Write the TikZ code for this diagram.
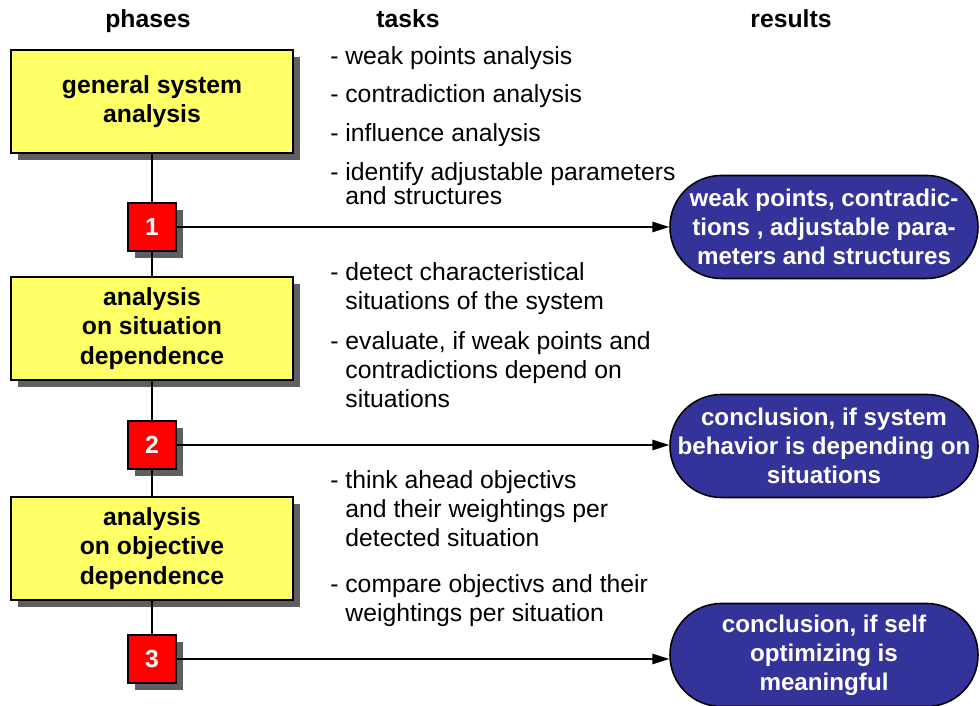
\documentclass[tikz,border=0pt]{standalone}
\usepackage{fontspec}
\setmainfont{Liberation Sans}
\usepackage{tikz}
\usetikzlibrary{arrows.meta, shadows}

\definecolor{phaseyellow}{HTML}{FFFF66}
\definecolor{resultblue}{HTML}{333399}
\definecolor{shadowgray}{HTML}{5F5F5F}

\tikzset{
    boxshadow/.style={drop shadow={fill=shadowgray, opacity=1, shadow xshift=0.175cm, shadow yshift=-0.175cm}},
    phase/.style={draw=black, line width=1.3pt, fill=phaseyellow, minimum width=7.05cm, minimum height=2.575cm,
        inner sep=0pt, align=center, font=\bfseries\fontsize{17.6}{21}\selectfont, boxshadow},
    milestone/.style={draw=black, line width=1.1pt, fill=red, text=white, minimum size=1.2cm,
        inner sep=0pt, font=\bfseries\fontsize{17.6}{21}\selectfont, boxshadow},
    result/.style={draw=black, line width=1.1pt, fill=resultblue, text=white, rounded corners=1.28cm,
        minimum width=7.7cm, minimum height=2.575cm, inner sep=0pt, align=center,
        font=\bfseries\fontsize{17.2}{20.6}\selectfont},
    task/.style={anchor=base west, align=left, inner sep=0pt, font=\fontsize{17.6}{20.9}\selectfont},
    header/.style={anchor=base, inner sep=0pt, font=\bfseries\fontsize{17.6}{21}\selectfont},
    link/.style={line width=1.5pt},
    arrowline/.style={line width=1pt, -{Triangle[length=0.42cm, width=0.26cm]}}
}

\begin{document}
\begin{tikzpicture}
        \useasboundingbox (0,0) rectangle (24.5,17.65);

        \node[header] (hphases) at (3.7,16.95) {phases};
        \node[header] (htasks) at (10.2,16.95) {tasks};
        \node[header] (hresults) at (19.775,16.95) {results};

        \node[phase] (p1) at (3.8,15.1125) {general system\\analysis};
        \node[phase] (p2) at (3.8,9.4375) {analysis\\on situation\\dependence};
        \node[phase] (p3) at (3.8,3.9375) {analysis\\on objective\\dependence};

        \node[milestone] (m1) at (3.8,11.975) {1};
        \node[milestone] (m2) at (3.8,6.525) {2};
        \node[milestone] (m3) at (3.8,1.175) {3};

        \node[result] (r1) at (20.6,11.975) {weak points, contradic-\\tions , adjustable para-\\meters and structures};
        \node[result] (r2) at (20.6,6.5) {conclusion, if system\\behavior is depending on\\situations};
        \node[result] (r3) at (20.6,1.275) {conclusion, if self\\optimizing is\\meaningful};

        \draw[link] (p1) -- (m1);
        \draw[link] (m1) -- (p2);
        \draw[link] (p2) -- (m2);
        \draw[link] (m2) -- (p3);
        \draw[link] (p3) -- (m3);

        \draw[arrowline] (m1) -- (m1 -| r1.west);
        \draw[arrowline] (m2) -- (m2 -| r2.west);
        \draw[arrowline] (m3) -- (m3 -| r3.west);

        % tasks, placed at the baseline of their last line
        \node[task] (t1) at (8.25,16.025) {- weak points analysis};
        \node[task] (t2) at (8.25,15.075) {- contradiction analysis};
        \node[task] (t3) at (8.25,14.1) {- influence analysis};
        \node[task, font=\fontsize{17.6}{17.7}\selectfont] (t4) at (8.25,12.525) {- identify adjustable parameters\\\hphantom{- }and structures};
        \node[task] (t5) at (8.25,9.9) {- detect characteristical\\\hphantom{- }situations of the system};
        \node[task] (t6) at (8.25,7.45) {- evaluate, if weak points and\\\hphantom{- }contradictions depend on\\\hphantom{- }situations};
        \node[task] (t7) at (8.25,3.975) {- think ahead objectivs\\\hphantom{- }and their weightings per\\\hphantom{- }detected situation};
        \node[task] (t8) at (8.25,2.1) {- compare objectivs and their\\\hphantom{- }weightings per situation};

\end{tikzpicture}
\end{document}
